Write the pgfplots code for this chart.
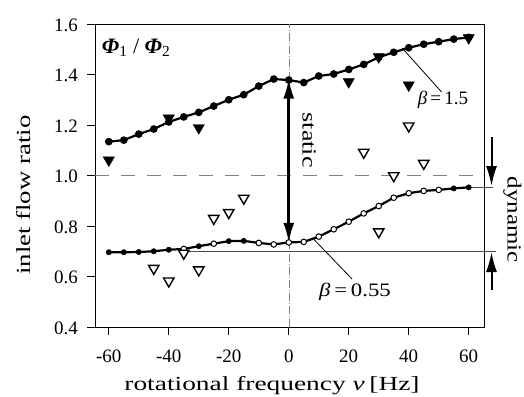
\documentclass[border=0pt]{standalone}
\usepackage{pgfplots}
\pgfplotsset{compat=1.18}
\usepackage{graphicx}
\usepackage{fontspec}
\setmainfont{Liberation Serif}
\usetikzlibrary{arrows.meta}
\newcommand{\wide}[2]{\scalebox{#1}[1]{#2}}
\begin{document}
\begin{tikzpicture}
\path[use as bounding box] (-95pt,-69pt) rectangle (429pt,327pt);
\begin{axis}[
  scale only axis, width=389pt, height=303pt,
  xmin=-64.6, xmax=65.1, ymin=0.4, ymax=1.6,
  xtick={-60,-40,...,60}, ytick={0.4,0.6,...,1.61},
  /pgf/number format/assume math mode=true,
  tick align=outside, major tick length=8pt,
  xtick pos=bottom, ytick pos=left,
  tick style={black, line width=0.8pt},
  axis line style={line width=0.9pt},
  ticklabel style={font=\fontsize{19}{22}\selectfont, inner sep=0pt},
  xticklabel style={anchor=base, yshift=-27pt},
  yticklabel style={/pgf/number format/fixed, /pgf/number format/fixed zerofill, /pgf/number format/precision=1, anchor=east, xshift=-9pt, yshift=-1pt},
  xlabel={\wide{1.37}{rotational frequency \textit{ν}\,[Hz]}},
  ylabel={\wide{1.34}{inlet flow ratio}},
  label style={font=\fontsize{20}{24}\selectfont, inner sep=0pt},
  xlabel style={at={(axis description cs:0.455,-0.208)}, anchor=base},
  ylabel style={at={(axis description cs:-0.167,0.435)}, anchor=base},
  clip=false,
]
% reference lines
\addplot[gray, dashed, dash pattern=on 14pt off 12pt, line width=0.6pt] coordinates {(-64.6,1.0) (65.1,1.0)};
\addplot[gray, dash pattern=on 8pt off 2pt on 1pt off 2pt, line width=0.5pt] coordinates {(0,0.4) (0,1.6)};
\addplot[black!70, line width=0.6pt] coordinates {(-35,0.70) (69,0.70)};
\addplot[black!70, line width=0.6pt] coordinates {(60,0.953) (68,0.953)};
% upper curve beta = 1.5
\addplot[black, line width=2.2pt, mark=*, mark size=2.7pt] coordinates {
(-60,1.134) (-55,1.140) (-50,1.164) (-45,1.184) (-40,1.212) (-35,1.232) (-30,1.250)
(-25,1.275) (-20,1.300) (-15,1.320) (-10,1.354) (-5,1.382) (0,1.378) (5,1.368)
(10,1.394) (15,1.402) (20,1.420) (25,1.440) (30,1.468) (35,1.488) (40,1.506)
(45,1.520) (50,1.530) (55,1.540) (60,1.547)};
% lower curve beta = 0.55
\addplot[black, line width=2.2pt] coordinates {
(-60,0.696) (-55,0.696) (-50,0.697) (-45,0.700) (-40,0.706) (-35,0.709) (-30,0.720)
(-25,0.730) (-20,0.740) (-15,0.741) (-10,0.733) (-5,0.727) (0,0.735) (5,0.737)
(10,0.758) (15,0.787) (20,0.817) (25,0.850) (30,0.879) (35,0.912) (40,0.930)
(45,0.939) (50,0.943) (55,0.949) (60,0.953)};
\addplot[only marks, mark=*, mark size=2.7pt, black] coordinates {
(-60,0.696) (-55,0.696) (-50,0.697) (-45,0.700) (-40,0.706) (-30,0.720)
(-20,0.740) (-15,0.741) (55,0.949) (60,0.953)};
\addplot[only marks, mark=*, mark size=2.8pt, black, fill=white, line width=1pt] coordinates {
(-35,0.709) (-25,0.730) (-10,0.733) (-5,0.727) (0,0.735) (5,0.737)
(10,0.758) (15,0.787) (20,0.817) (25,0.850) (30,0.879) (35,0.912) (40,0.930)
(45,0.939) (50,0.943)};
% triangles
\addplot[only marks, mark=triangle*, mark size=6.5pt, mark options={rotate=180, fill=black}, black] coordinates {
(-60,1.061) (-40,1.227) (-30,1.189) (20,1.371) (30,1.470) (40,1.358) (60,1.545)};
\addplot[only marks, mark=triangle*, mark size=6pt, mark options={rotate=180, fill=white, line width=1.4pt}, black] coordinates {
(-45,0.632) (-40,0.582) (-35,0.692) (-30,0.626) (-25,0.830) (-20,0.853) (-15,0.910)
(25,1.092) (30,0.777) (35,0.999) (40,1.196) (45,1.048)};
% static arrow
\draw[{Latex[length=20pt,width=11pt]}-{Latex[length=20pt,width=11pt]}, line width=2.6pt] (axis cs:0,1.384) -- (axis cs:0,0.733);
\node[rotate=-90, font=\fontsize{20}{24}\selectfont] at (axis cs:6.8,1.14) {\wide{1.3}{static}};
% dynamic arrows
\draw[-{Latex[length=20pt,width=11pt]}, line width=2pt] (axis cs:67.6,1.152) -- (axis cs:67.6,0.958);
\draw[-{Latex[length=20pt,width=11pt]}, line width=2pt] (axis cs:67.6,0.547) -- (axis cs:67.6,0.697);
\node[rotate=-90, font=\fontsize{20}{24}\selectfont] at (axis cs:74.6,0.824) {\wide{1.25}{dynamic}};
% beta labels
\draw[line width=0.8pt] (axis cs:37.8,1.505) -- (axis cs:51,1.33);
\node[font=\fontsize{19}{22}\selectfont] at (axis cs:51.4,1.299) {\textit{β}\,=\,1.5};
\draw[line width=0.8pt] (axis cs:8.3,0.748) -- (axis cs:21.1,0.59);
\node[font=\fontsize{19}{22}\selectfont] at (axis cs:22.1,0.54) {\wide{1.2}{\textit{β}\,=\,0.55}};
% Phi label
\node[font=\fontsize{22}{26}\selectfont] at (axis cs:-50.9,1.505) {{\bfseries\itshape Φ}\textsubscript{1} / {\bfseries\itshape Φ}\textsubscript{2}};
\end{axis}
\end{tikzpicture}
\end{document}
